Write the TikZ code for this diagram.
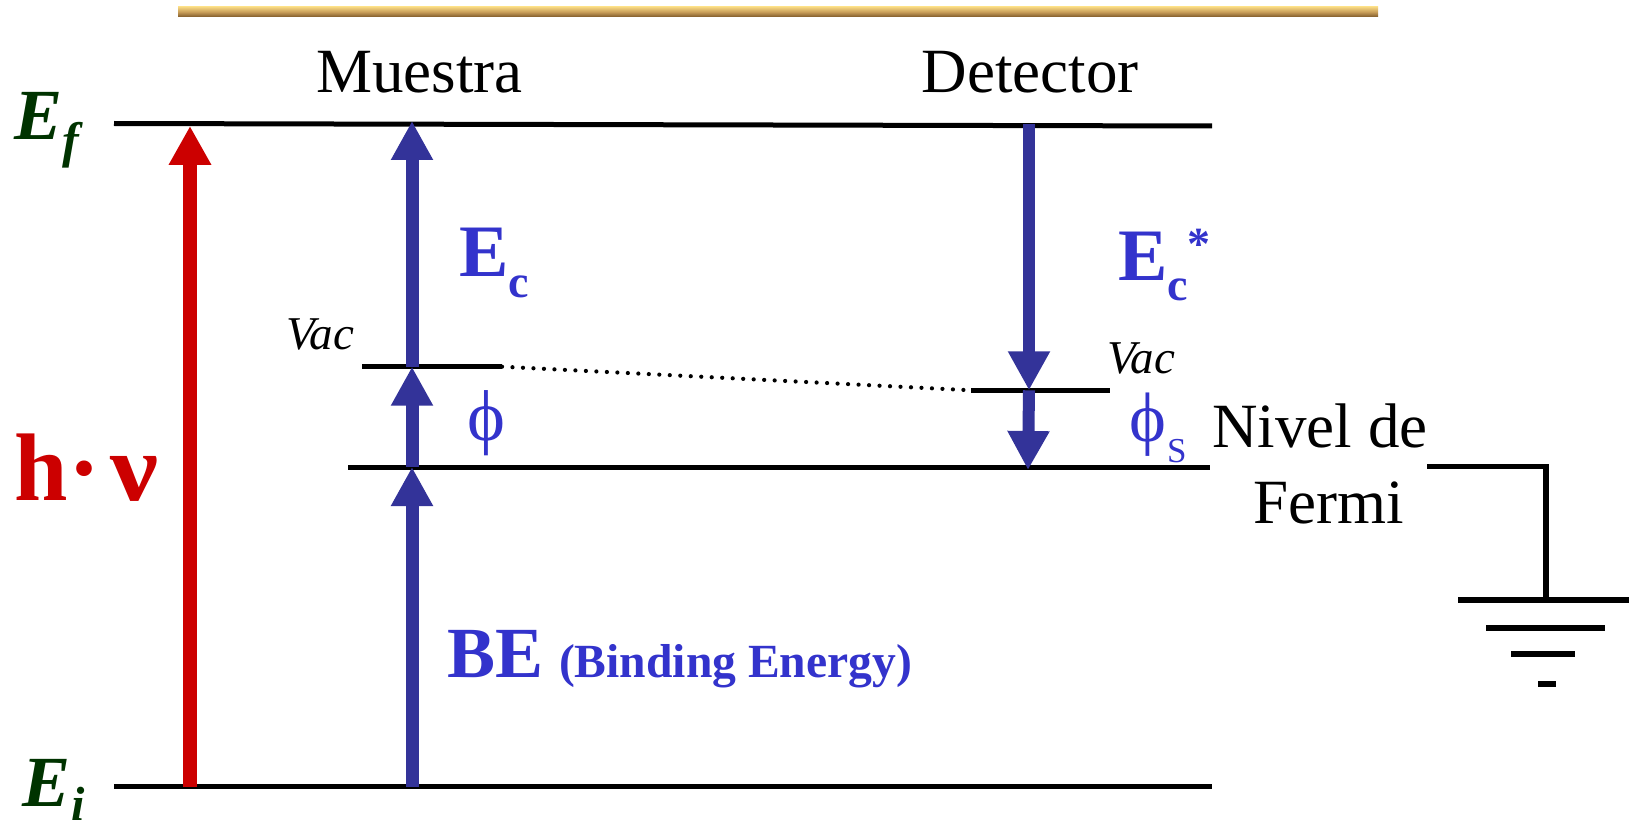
\documentclass[tikz,border=0pt]{standalone}
\usepackage{fontspec}
\setmainfont{Liberation Serif}
\usetikzlibrary{arrows.meta}
\definecolor{arrowblue}{HTML}{333399}
\definecolor{textblue}{HTML}{3333CC}
\definecolor{hvred}{HTML}{CC0000}
\definecolor{egreen}{HTML}{003300}
\definecolor{bartop}{HTML}{F5D680}
\definecolor{barmid}{HTML}{C79C58}
\definecolor{barbot}{HTML}{7E5A2A}
\begin{document}
\begin{tikzpicture}[x=0.5pt,y=-0.5pt,
  level/.style={line width=2.5pt,black},
  wire/.style={line width=2.8pt,black},
  bigarrow/.style={line width=6.5pt,arrowblue,-{Triangle[width=19.75pt,length=19.5pt]}},
  redarrow/.style={line width=6.8pt,hvred,-{Triangle[width=20pt,length=19.5pt]}},
  lbl/.style={inner sep=0pt,outer sep=0pt},
  bigtext/.style={lbl,font=\fontsize{31.5}{38}\selectfont},
  vactext/.style={lbl,font=\fontsize{23.5}{26}\selectfont\itshape},
  bluebold/.style={lbl,text=textblue,font=\bfseries},
  greenE/.style={lbl,text=egreen,font=\fontsize{36}{40}\selectfont\bfseries\itshape},
]
\useasboundingbox (0,0) rectangle (1629,829);

% top decorative bar
\shade[top color=bartop,bottom color=barbot,middle color=barmid] (178,7) rectangle (1378,17);

% level end points
\coordinate (EfL) at (114,123.5); \coordinate (EfR) at (1212,126);
\coordinate (EiL) at (114,786.5); \coordinate (EiR) at (1212,786.5);
\coordinate (FL) at (348,467);   \coordinate (FR) at (1210,467);
\coordinate (VsL) at (362,366.7); \coordinate (VsR) at (502,366.7);
\coordinate (VdL) at (971,390.3); \coordinate (VdR) at (1110,390.3);
\coordinate (W1) at (1427,466.5); \coordinate (W2) at (1546,466.5); \coordinate (W3) at (1546,600);

% levels
\draw[level] (EfL) -- (EfR);
\draw[level] (EiL) -- (EiR);
\draw[level] (FL) -- (FR);
\draw[level] (VsL) -- (VsR);
\draw[level] (VdL) -- (VdR);
\draw[line width=2.1pt,line cap=round,dash pattern=on 0pt off 5.25pt] (VsR) -- (VdL);

% ground connection
\draw[wire] (W1) -- (W2) -- (W3);
\draw[wire] (1458,600) -- (1629,600);
\draw[wire] (1486,628) -- (1605,628);
\draw[wire] (1511,654) -- (1575,654);
\draw[wire] (1538,684) -- (1556,684);

% arrow anchor points
\coordinate (R0) at (190,786.5); \coordinate (R1) at (190,126);
\coordinate (S0) at (412,786.5); \coordinate (S1) at (412,467);
\coordinate (S2) at (412,366.7); \coordinate (S3) at (412,121);
\coordinate (D0) at (1029,124);  \coordinate (D1) at (1029,390.3);
\coordinate (D2) at (1028,470);

\draw[redarrow] (R0) -- (R1);
\draw[bigarrow] (S0) -- (S1);
\draw[bigarrow] (S1) -- (S2);
\draw[bigarrow] (S2) -- (S3);
\draw[bigarrow,line width=6pt] (D0) -- (D1);
\draw[bigarrow,line width=6pt] (D1) -- (D2);

% texts
\node[bigtext,anchor=base] (muestra) at (419.5,93) {Muestra};
\node[bigtext,anchor=base] (detector) at (1030,93) {Detector};
\node[bigtext,anchor=base] (nivel) at (1320,447) {Nivel de};
\node[bigtext,anchor=base] (fermi) at (1329,523) {Fermi};
\node[vactext,anchor=base west] (vac1) at (286,349) {Vac};
\node[vactext,anchor=base west] (vac2) at (1107,373) {Vac};

\node[greenE,anchor=base west] (Ef) at (14,140) {E\raisebox{-9pt}{\fontsize{25}{25}\selectfont f}};
\node[greenE,anchor=base west] (Ei) at (23,806) {E\raisebox{-7pt}{\fontsize{24}{24}\selectfont i}};

\node[lbl,text=hvred,font=\fontsize{48}{50}\selectfont\bfseries,anchor=base west] (hv) at (15,500)
  {h·\hspace{5pt}\scalebox{1.12}[1]{ν}};

\node[bluebold,font=\fontsize{37}{40}\selectfont\bfseries,anchor=base west] (Ec) at (459,277)
  {E\raisebox{-10pt}{\fontsize{23}{23}\selectfont c}};
\node[bluebold,font=\fontsize{37}{40}\selectfont\bfseries,anchor=base west] (Ecs) at (1118,280)
  {E\raisebox{-10pt}{\fontsize{23}{23}\selectfont c}\raisebox{10.5pt}{\fontsize{23}{23}\selectfont *}};

\node[lbl,text=textblue,font=\fontsize{36}{40}\selectfont] (phi) at (486,423) {ϕ};
\node[lbl,text=textblue,font=\fontsize{35}{40}\selectfont] (phis) at (1148,425) {ϕ};
\node[lbl,text=textblue,font=\fontsize{17.5}{20}\selectfont,anchor=base west] (phisub) at (1167,462) {S};

\node[bluebold,anchor=base west] (be) at (447,677)
  {\fontsize{36}{40}\selectfont BE\hspace{8pt}\fontsize{23.8}{26}\selectfont (Binding Energy)};
\end{tikzpicture}
\end{document}
